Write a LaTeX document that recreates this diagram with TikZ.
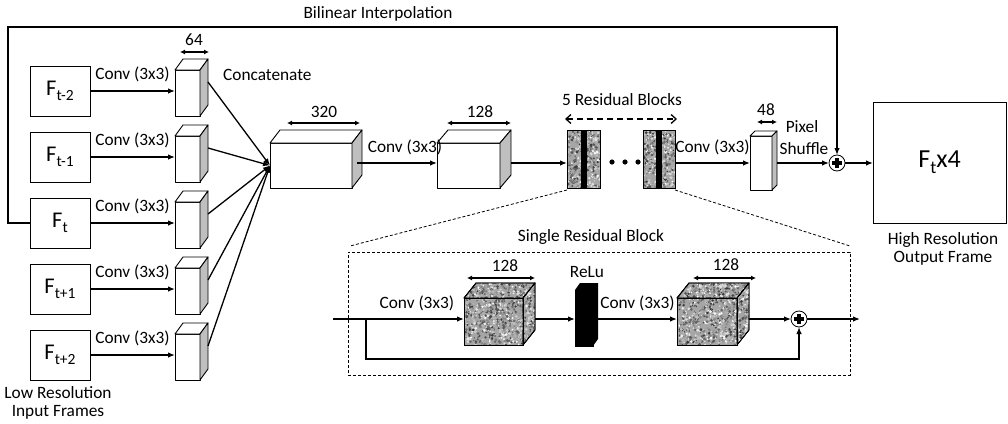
\documentclass[tikz,border=0pt]{standalone}
\usepackage{fontspec}
\setmainfont{Carlito}
\usetikzlibrary{arrows.meta,calc}
\newcommand\Fs[1]{F\raisebox{-5pt}{\fontsize{15.5}{15.5}\selectfont #1}}
\newcommand\cubefaces[5]{%
  \draw[face, fill=#4] (#1.north west) -- ($(#1.north west)+(#2,-#3)$) -- ($(#1.north east)+(#2,-#3)$) -- (#1.north east) -- cycle;
  \draw[face, fill=#5] (#1.north east) -- ($(#1.north east)+(#2,-#3)$) -- ($(#1.south east)+(#2,-#3)$) -- (#1.south east) -- cycle;}
\newcommand\speckdots[4]{%
  \foreach \k in {1,...,#3}{%
    \pgfmathsetmacro\sx{rnd*(#1)}%
    \pgfmathsetmacro\sy{(#4)+rnd*((#2)-(#4))}%
    \pgfmathtruncatemacro\sg{rnd*80}%
    \pgfmathsetmacro\sr{0.7+rnd*0.9}%
    \fill[black!\sg] (\sx,\sy) circle[radius=\sr];
  }}
% name, dx, dy, w, h, n
\newcommand\texcube[6]{%
  \cubefaces{#1}{#2}{#3}{black!35}{black!35}
  \begin{scope}
    \clip (#1.south west) -- (#1.north west) -- ($(#1.north west)+(#2,-#3)$) -- ($(#1.north east)+(#2,-#3)$) -- ($(#1.south east)+(#2,-#3)$) -- (#1.south east) -- cycle;
    \begin{scope}[shift={(#1.north west)}]
      \speckdots{#4+#2}{#5}{#6}{-#3}
    \end{scope}
  \end{scope}
  \draw[face] (#1.north west) rectangle (#1.south east);
  \cubefaces{#1}{#2}{#3}{none}{none}}
\newcommand\resblock[3]{% name, w, h
  \begin{scope}
    \clip (#1.north west) rectangle (#1.south east);
    \begin{scope}[shift={(#1.north west)}]
      \speckdots{#2}{#3}{450}{0}
    \end{scope}
  \end{scope}
  \fill ($(#1.north)+(-3,0)$) rectangle ($(#1.south)+(3,0)$);
  \draw[face] (#1.north west) rectangle (#1.south east);}
\tikzset{
  lbl/.style={font=\fontsize{17.3}{20}\selectfont, inner sep=0pt},
  inbox/.style={draw, line width=0.9pt, minimum width=60pt, minimum height=50pt, inner sep=0pt, outer sep=0pt, font=\fontsize{22.5}{24}\selectfont},
  arr/.style={line width=1.3pt, -{Latex[length=7pt,width=5.5pt]}},
  dim/.style={line width=1.3pt, {Latex[length=5pt,width=5pt]}-{Latex[length=5pt,width=5pt]}},
  face/.style={draw, line width=0.9pt, line join=round},
  front/.style={face, fill=white, inner sep=0pt, outer sep=0pt},
  texfront/.style={face, fill=black!35, inner sep=0pt, outer sep=0pt},
  dbox/.style={draw, line width=0.8pt, dash pattern=on 3pt off 2pt},
  plusc/.style={circle, draw, line width=0.8pt, minimum size=16pt, inner sep=0pt, outer sep=0pt, fill=white},
  plusbar/.style={line width=3.4pt}
}
\begin{document}
\begin{tikzpicture}[x=1pt,y=-1pt]
\useasboundingbox (0,0) rectangle (1008,423);
\pgfmathsetseed{7}
\coordinate (axis) at (0,163);
% ---------- inputs ----------
\foreach \i/\s/\y in {1/t-2/91,2/t-1/157,3/t/223,4/t+1/289,5/t+2/355}{
  \node[inbox] (f\i) at (60,\y) {\Fs{\s}};
  \node[front, minimum width=25pt, minimum height=46pt] (c\i) at (187.5,\y+2) {};
  \cubefaces{c\i}{8}{11}{white}{black!25}
  \draw[arr] (f\i.east) -- (f\i.east -| c\i.west) node[lbl, midway, above=8pt] {Conv (3x3)};
}
\node[lbl] (lowres) at (58,403) [align=center] {Low Resolution\\[-2pt]Input Frames};
\draw[dim] (180,52) -- (209,52);
\node[lbl] at (194,40) {64};
\node[lbl, anchor=west] at (223,75) {Concatenate};
% ---------- big cuboid ----------
\node[front, minimum width=82pt, minimum height=45pt] (B) at (311,165.5) {};
\cubefaces{B}{10}{13}{white}{black!25}
\draw[dim] (287,123) -- (360,123);
\node[lbl] at (324,112) {320};
\foreach \i in {1,...,5} \draw[arr] ($(c\i.east)+(8,-11)$) -- (B.west);
% ---------- 128 cuboid ----------
\node[front, minimum width=63pt, minimum height=45pt] (C) at (468.5,165.5) {};
\cubefaces{C}{11}{13}{white}{black!25}
\draw[dim] (447,123) -- (511,123);
\node[lbl] at (480,112) {128};
\draw[arr] ($(B.east |- axis)+(5,0)$) -- (C.west |- axis) node[lbl, pos=0.6, above=7pt] {Conv (3x3)};
% ---------- residual blocks ----------
\node[texfront, minimum width=33pt, minimum height=58pt] (rb1) at (583.5,159) {};
\resblock{rb1}{33}{58}
\node[texfront, minimum width=32pt, minimum height=58pt] (rb2) at (659,159) {};
\resblock{rb2}{32}{58}
\draw[arr] ($(C.east |- axis)+(11,0)$) -- (rb1.west |- axis);
\foreach \xx in {612,625,638} \fill (\xx,162) circle[radius=2.6];
\node[lbl] at (622,100) {5 Residual Blocks};
\draw[line width=1.3pt, dash pattern=on 6pt off 4pt, {Straight Barb[length=5pt,width=9pt]}-{Straight Barb[length=5pt,width=9pt]}] (565,119) -- (677,119);
% ---------- 48 cuboid ----------
\node[front, minimum width=22pt, minimum height=54pt] (D) at (761,163) {};
\cubefaces{D}{5}{5}{white}{black!25}
\draw[dim] (757,122) -- (777,122);
\node[lbl] at (766,110) {48};
\draw[arr] (rb2.east |- axis) -- (D.west |- axis) node[lbl, midway, above=7pt] {Conv (3x3)};
\node[lbl] at (802,127) {Pixel};
\node[lbl] at (804,149) {Shuffle};
% ---------- plus & output ----------
\node[plusc] (p1) at (837,163) {};
\draw[plusbar] ($(p1.center)+(-5,0)$) -- ($(p1.center)+(5,0)$);
\draw[plusbar] ($(p1.center)+(0,-5)$) -- ($(p1.center)+(0,5)$);
\draw[arr] ($(D.east |- axis)+(5,0)$) -- (p1.west);
\node[draw, line width=0.9pt, minimum width=133pt, minimum height=121pt, inner sep=0pt, outer sep=0pt, font=\fontsize{26}{28}\selectfont] (out) at (939.5,162.5) {F\raisebox{-6pt}{\fontsize{18}{18}\selectfont t}x4};
\draw[arr] (p1.east) -- (out.west |- p1.east);
\node[lbl, align=center] at (943,248.5) {High Resolution\\[-2pt]Output Frame};
% ---------- bilinear skip ----------
\coordinate (tl) at (8,27);
\draw[arr] (f3.west) -| (tl) -| (p1.north);
\node[lbl] at (378,14) {Bilinear Interpolation};
% ---------- single residual block ----------
\node[dbox, minimum width=502pt, minimum height=123pt, inner sep=0pt, outer sep=0pt] (sbox) at (599,313.5) {};
\node[lbl] at (591,237) {Single Residual Block};
\draw[dbox] ($(rb1.south west)+(0,2)$) -- ($(sbox.north west)+(2,-6)$);
\draw[dbox] ($(rb2.south east)+(0,2)$) -- ($(sbox.north east)+(0,-6)$);
\coordinate (rin) at (333,319);
\coordinate (br) at (366,319);
\coordinate (sk) at (366,359);
\coordinate (rout) at (860,319);
\node[texfront, minimum width=59pt, minimum height=47pt] (R1) at (493.5,321.5) {};
\texcube{R1}{12}{15}{59}{47}{1000}
\node[draw, fill=black, line width=0.8pt, minimum width=18pt, minimum height=56pt, inner sep=0pt, outer sep=0pt] (relu) at (584,318) {};
\fill (relu.north west) -- ($(relu.north west)+(5,-7)$) -- ($(relu.north east)+(5,-7)$) -- ($(relu.south east)+(5,-7)$) -- (relu.south east) -- (relu.north east) -- cycle;
\node[lbl] at (587,272) {ReLu};
\node[texfront, minimum width=60pt, minimum height=47pt] (R2) at (707,321.5) {};
\texcube{R2}{12}{15}{60}{47}{1000}
\draw[dim] (467,278) -- (535,278);
\node[lbl] at (505,266) {128};
\draw[dim] (693,278) -- (756,278);
\node[lbl] at (726,265) {128};
\node[plusc] (p2) at (799,319) {};
\draw[plusbar] ($(p2.center)+(-5,0)$) -- ($(p2.center)+(5,0)$);
\draw[plusbar] ($(p2.center)+(0,-5)$) -- ($(p2.center)+(0,5)$);
\draw[arr] (rin) -- (R1.west |- rin) node[lbl, pos=0.64, above=7pt] {Conv (3x3)};
\draw[arr] ($(R1.east |- rin)+(12,0)$) -- (relu.west |- rin);
\draw[arr] (relu.east |- rin) -- (R2.west |- rin) node[lbl, pos=0.53, above=7pt] {Conv (3x3)};
\draw[arr] ($(R2.east |- rin)+(12,0)$) -- (p2.west);
\draw[arr] (p2.east) -- (rout);
\draw[arr] (br) -- (sk) -| (p2.south);
\end{tikzpicture}
\end{document}
